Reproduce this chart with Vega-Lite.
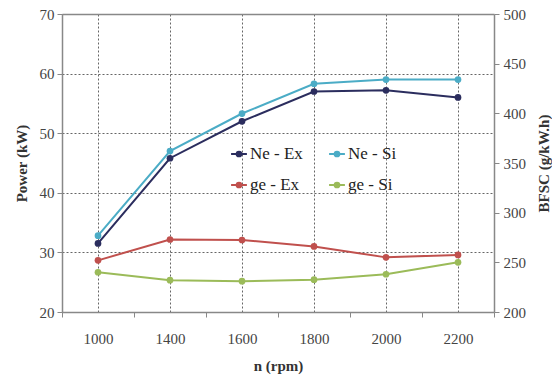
{
  "$schema": "https://vega.github.io/schema/vega-lite/v6.json",
  "autosize": "none",
  "padding": {"left": 62, "top": 14, "right": 58, "bottom": 66},
  "width": 432,
  "height": 298,
  "background": "white",
  "config": {
    "font": "Times New Roman",
    "view": {"stroke": null},
    "legend": {"labelFont": "Times New Roman"},
    "axis": {"labelFont": "Times New Roman", "titleFont": "Times New Roman", "labelFontSize": 15, "labelColor": "#444", "titleFontSize": 15, "titleColor": "#333", "titleFontWeight": "bold", "domainColor": "#888", "tickColor": "#888", "domainWidth": 1.5}
  },
  "datasets": {
    "power": [
      {"n": "1000", "series": "Ne - Ex", "value": 31.5},
      {"n": "1400", "series": "Ne - Ex", "value": 45.8},
      {"n": "1600", "series": "Ne - Ex", "value": 52.0},
      {"n": "1800", "series": "Ne - Ex", "value": 57.0},
      {"n": "2000", "series": "Ne - Ex", "value": 57.2},
      {"n": "2200", "series": "Ne - Ex", "value": 56.0},
      {"n": "1000", "series": "Ne - Si", "value": 32.8},
      {"n": "1400", "series": "Ne - Si", "value": 47.0},
      {"n": "1600", "series": "Ne - Si", "value": 53.3},
      {"n": "1800", "series": "Ne - Si", "value": 58.3},
      {"n": "2000", "series": "Ne - Si", "value": 59.0},
      {"n": "2200", "series": "Ne - Si", "value": 59.0}
    ],
    "bsfc": [
      {"n": "1000", "series": "ge - Ex", "value": 252},
      {"n": "1400", "series": "ge - Ex", "value": 273},
      {"n": "1600", "series": "ge - Ex", "value": 272.5},
      {"n": "1800", "series": "ge - Ex", "value": 266},
      {"n": "2000", "series": "ge - Ex", "value": 255},
      {"n": "2200", "series": "ge - Ex", "value": 257.5},
      {"n": "1000", "series": "ge - Si", "value": 240},
      {"n": "1400", "series": "ge - Si", "value": 232},
      {"n": "1600", "series": "ge - Si", "value": 231},
      {"n": "1800", "series": "ge - Si", "value": 232.5},
      {"n": "2000", "series": "ge - Si", "value": 238},
      {"n": "2200", "series": "ge - Si", "value": 250}
    ]
  },
  "layer": [
    {
      "data": {"name": "power"},
      "mark": {"type": "line", "strokeWidth": 2, "point": {"filled": true, "size": 45}},
      "encoding": {
        "x": {"field": "n", "type": "ordinal", "scale": {"type": "band", "paddingInner": 0, "paddingOuter": 0},
          "axis": {"orient": "top", "title": null, "labels": false, "ticks": false, "grid": true, "gridDash": [2, 2], "gridColor": "#666", "gridWidth": 1}},
        "y": {"field": "value", "type": "quantitative", "scale": {"domain": [20, 70], "nice": false},
          "axis": {"orient": "left", "title": "Power (kW)", "values": [20, 30, 40, 50, 60, 70], "grid": true, "gridDash": [2, 2], "gridColor": "#666", "tickSize": 5, "labelPadding": 3, "titlePadding": 10}},
        "color": {"field": "series", "type": "nominal",
          "scale": {"domain": ["Ne - Ex", "Ne - Si", "ge - Ex", "ge - Si"], "range": ["#2b2d5e", "#4bacc6", "#c0504d", "#9bbb59"]},
          "legend": {"orient": "none", "legendX": 168, "legendY": 131, "columns": 2, "direction": "horizontal", "title": null,
            "labelFont": "Times New Roman", "labelFontSize": 17, "labelColor": "#222", "columnPadding": 22, "rowPadding": 14,
            "symbolType": "M-1,0H1M0,-0.3A0.3,0.3,0,1,1,0,0.3A0.3,0.3,0,1,1,0,-0.3Z", "symbolSize": 250, "symbolStrokeWidth": 2,
            "labelOffset": 2,
            "encode": {"symbols": {"update": {"fill": {"scale": "color", "field": "value"}}}}}}
      }
    },
    {
      "data": {"name": "bsfc"},
      "mark": {"type": "line", "strokeWidth": 2, "point": {"filled": true, "size": 45}},
      "encoding": {
        "x": {"field": "n", "type": "ordinal",
          "axis": {"orient": "bottom", "title": "n (rpm)", "labelAngle": 0, "tickBand": "extent", "grid": false, "tickSize": 5, "labelPadding": 14, "titlePadding": 12}},
        "y": {"field": "value", "type": "quantitative", "scale": {"domain": [200, 500], "nice": false},
          "axis": {"orient": "right", "title": "BFSC (g/kW.h)", "titleAngle": 270, "titleBaseline": "bottom", "values": [200, 250, 300, 350, 400, 450, 500], "grid": false, "tickSize": 5, "labelPadding": 4, "titlePadding": 26}},
        "color": {"field": "series", "type": "nominal"}
      }
    }
  ],
  "resolve": {"scale": {"y": "independent"}, "axis": {"x": "independent"}}
}
